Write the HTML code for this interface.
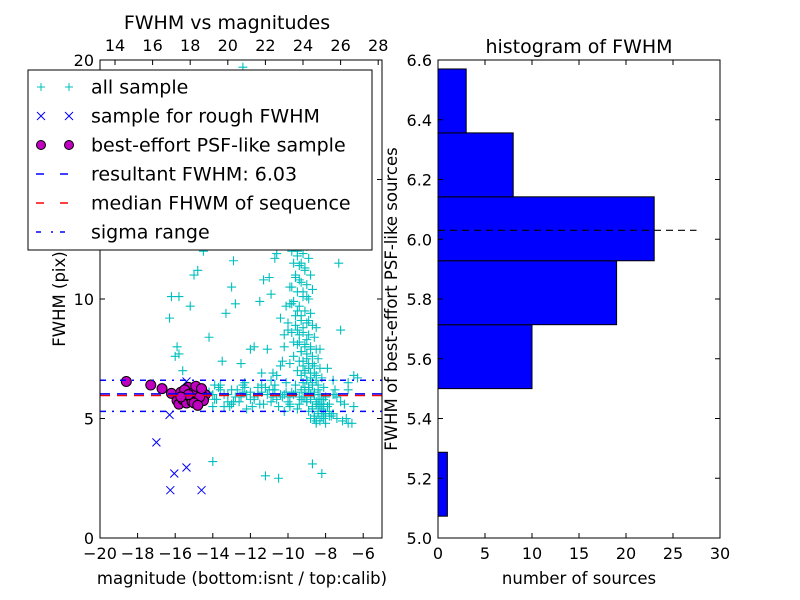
<!DOCTYPE html>
<html><head><meta charset="utf-8"><style>
body{margin:0;background:#fff;}
svg{display:block;font-family:"DejaVu Sans","Liberation Sans",sans-serif;}
</style></head><body>
<svg id="fig" width="800" height="600" viewBox="0 0 800 600" xmlns="http://www.w3.org/2000/svg">
<rect width="800" height="600" fill="#fff"/>
<g id="left"></g>
<g id="right"></g>
</svg>
<script>
// ---------- data ----------
const magAll = [-12.4,-16.2,-15.8,-16.3,-15.9,-16.0,-15.8,-15.6,-15.2,-14.8,-15.0,-14.2,-14.5,-13.3,-13.0,-12.8,-12.9,-14.0,-11.2,-10.5,-8.7,-8.2,-11.8,-12.5,-12.0,-13.5,-12.3,-11.5,-11.0,-10.7,-10.2,-11.4,-7.2,-6.5,-6.8,-7.6,-7.9,
-9.8,-9.5,-9.3,-9.1,-9.6,-9.4,-9.9,-9.2,-9.0,-9.7,-10.1,-9.5,-9.3,-8.9,-9.6,-9.2,-9.8,-9.4,-9.0,-9.5,-9.1,-8.8,-9.3,-9.7,-9.0,-9.4,-8.7,-9.2,-8.9,-9.5,-9.1,-8.6,-9.3,-8.8,-9.0,-8.5,-9.2,-8.7,-8.9,-8.4,-9.1,-8.6,-8.8,-8.3,-9.0,-8.5,-8.7,-8.2,-8.9,-8.4,-8.6,-8.1,-8.8,-8.3,-8.5,-8.0,-8.7,-8.2,-8.4,-7.8,-8.6,-8.1,-8.3,-7.6,-8.5,-8.0,-10.6,-10.9,-11.3,-10.4,-10.0,-11.1,-10.3,-9.9,
-14.8,-14.4,-14.0,-13.6,-13.2,-12.8,-12.4,-12.0,-11.6,-11.2,-10.8,-10.4,-10.0,-9.6,-9.2,-8.8,-8.4,-8.0,-7.6,-7.2,-6.8,-14.6,-14.2,-13.8,-13.4,-13.0,-12.6,-12.2,-11.8,-11.4,-11.0,-10.6,-10.2,-9.8,-9.4,-9.0,-8.6,-8.2,-7.8,-7.4,-7.0,-13.9,-13.1,-12.3,-11.5,-10.7,-9.9,-9.1,-8.3,-7.5,-6.9,-6.6,-6.3,-10.9,-10.1,-9.3,-8.5,
-9.6,-9.3,-9.0,-9.5,-9.2,-8.9,-9.7,-9.4,-9.1,-8.8,-9.6,-9.3,-9.0,-8.7,-9.5,-9.2,-8.9,-9.8,-9.4,-9.1,-8.8,-9.6,-9.3,-9.0,-8.7,-9.5,-9.2,-8.9,-8.6,-9.4,-9.1,-8.8,-8.5,-9.3,-9.0,-8.7,-8.4,-9.2,-8.9,-8.6,-8.3,-9.1,-8.8,-8.5,-8.2,-9.0,-8.7,-8.4,-8.1,-8.9,-8.6,-8.3,-8.0,-8.8,-8.5,-8.2,-7.9,-8.7,-8.4,-8.1,-7.8,-8.6,-8.3,-8.0,-7.7,-7.4,-7.1,-6.8,-6.5,-7.5,-7.3,-10.0,-10.2,-10.4,-10.6,-10.8,-9.9,-9.7,-9.8,-10.1,-9.9,-8.5,-8.3,-8.1,
-14.2,-13.9,-13.7,-13.4,-13.2,-12.9,-12.7,-12.5,-12.2,-12.0,-11.8,-11.6,-11.3,-11.1,-10.9,-10.7,-10.5,-10.3,-10.1,-9.9,-9.7,-9.5,-9.3,-9.1,-14.0,-13.6,-13.0,-12.4,-11.9,-11.4,-10.8,-10.2,-9.6,-9.4,-9.2];
const fwhmAll = [19.7,10.1,10.1,9.2,8.0,7.6,7.7,7.0,9.7,11.2,11.0,8.4,12.0,9.4,10.5,9.8,11.6,3.2,2.6,2.5,3.1,2.7,8.0,7.3,7.9,7.4,6.5,9.9,10.9,11.7,8.5,6.9,8.7,6.8,6.5,6.6,7.1,
12.0,11.8,11.5,11.3,11.0,10.8,10.5,10.3,10.1,9.9,9.7,9.5,9.3,9.1,8.9,8.8,8.6,8.5,8.3,8.1,8.0,7.9,7.8,7.6,7.5,7.4,7.3,7.2,7.1,7.0,6.9,6.9,6.8,6.7,6.6,6.6,6.5,6.4,6.3,6.2,6.1,6.0,5.9,5.8,5.7,5.6,5.5,5.4,5.3,5.2,5.1,5.0,5.0,4.9,4.8,5.2,5.4,5.1,5.6,5.3,5.0,5.8,5.5,5.2,4.9,12.5,11.9,10.2,10.8,9.2,8.7,7.9,7.4,
5.9,6.1,5.8,6.0,6.2,5.7,5.9,6.1,5.8,6.0,6.3,5.9,6.0,5.7,6.1,5.9,6.0,5.8,5.9,6.0,5.7,6.2,5.9,6.1,5.8,6.0,6.2,5.7,6.0,5.9,6.1,6.2,5.8,6.0,6.1,5.9,5.7,6.0,5.8,5.6,5.9,5.6,6.4,5.5,6.3,5.6,6.4,5.5,6.3,5.6,6.0,5.0,4.8,6.7,6.6,6.5,6.2,
12.8,12.6,12.4,12.2,12.0,11.9,11.7,11.5,11.4,11.2,11.0,10.9,10.7,10.6,10.4,10.3,10.1,10.0,9.8,9.7,9.5,9.4,9.3,9.1,9.0,8.9,8.7,8.6,8.5,8.4,8.2,8.1,8.0,7.9,7.8,7.7,7.6,7.5,7.4,7.3,7.2,7.1,7.0,6.9,6.8,6.7,6.6,6.5,6.4,6.3,6.2,6.1,6.0,5.9,5.8,5.7,5.6,5.5,5.4,5.3,5.2,5.1,5.0,4.9,4.8,5.1,5.0,4.9,4.8,5.5,6.2,11.5,9.0,8.0,7.2,6.8,6.9,7.3,8.2,10.5,12.5,9.8,8.8,7.9,
5.6,6.1,5.8,6.3,5.5,6.0,5.7,6.2,5.9,5.4,6.1,5.8,6.3,5.6,6.0,5.7,6.2,5.5,5.9,6.1,5.6,6.0,5.4,5.8,5.9,5.5,6.4,5.6,6.4,5.5,6.4,6.2,5.3,6.4,5.6];
const magRough = [-17.0,-16.05,-15.4,-16.26,-14.6,-16.3,-15.4,-14.9,-14.5];
const fwhmRough = [4.0,2.7,2.95,2.0,2.0,5.15,6.55,6.0,5.9];
const magPsf = [-18.6,-17.3,-16.7,-16.2,-15.9,-15.7,-15.5,-15.3,-15.1,-14.9,-14.7,-14.5,-14.4,-15.8,-15.6,-15.4,-15.2,-15.0,-14.8,-14.6,-14.5,-15.5,-15.1,-14.7,-14.9,-15.3,-14.6,-15.7,-15.0,-14.8];
const fwhmPsf = [6.55,6.4,6.25,6.05,5.75,6.1,5.9,6.3,6.0,5.7,6.2,5.8,6.0,5.6,5.8,5.65,5.9,6.1,5.6,6.0,5.75,6.2,5.7,5.9,6.35,6.0,6.25,5.9,5.65,5.55];
const resultFwhm = 6.03, medianFwhm = 5.96, sigmaHi = 6.6, sigmaLo = 5.3;
const binEdges = [5.073,5.287,5.500,5.714,5.928,6.142,6.356,6.570];
const binCounts = [1,0,10,19,23,8,3];
const leftXTicks = [-20,-18,-16,-14,-12,-10,-8,-6];
const leftYTicks = [0,5,10,15,20];
const topTicks = [14,16,18,20,22,24,26,28];
const rightXTicks = [0,5,10,15,20,25,30];
const rightYTicks = [5.0,5.2,5.4,5.6,5.8,6.0,6.2,6.4,6.6];

// ---------- helpers ----------
const NS="http://www.w3.org/2000/svg";
function mk(parent,tag,attrs,text){const e=document.createElementNS(NS,tag);for(const k in attrs)e.setAttribute(k,attrs[k]);if(text!==undefined)e.textContent=text;parent.appendChild(e);return e;}
const fmt=v=>(v<0?"\u2212"+Math.abs(v):""+v);
const TF=16;

// ---------- left axes ----------
const L={x0:100,x1:382,y0:538,y1:60,xmin:-20,xmax:-5,ymin:0,ymax:20};
const lx=v=>L.x0+(v-L.xmin)/(L.xmax-L.xmin)*(L.x1-L.x0);
const ly=v=>L.y0-(v-L.ymin)/(L.ymax-L.ymin)*(L.y0-L.y1);
const tx=v=>115+(v-14)*18.8;
const lg=document.getElementById('left');
const plot=mk(lg,'g',{});


for(let i=0;i<magAll.length;i++){const x=lx(magAll[i]),y=ly(fwhmAll[i]);
 const p=mk(plot,'path',{d:`M${x-4.5},${y}H${x+4.5}M${x},${y-4.5}V${y+4.5}`,stroke:'#00bfbf','stroke-width':1.1});
 
 }
for(let i=0;i<magRough.length;i++){const x=lx(magRough[i]),y=ly(fwhmRough[i]);
 const p=mk(plot,'path',{d:`M${x-4},${y-4}L${x+4},${y+4}M${x-4},${y+4}L${x+4},${y-4}`,stroke:'#0000ff','stroke-width':1});
 
 }
for(let i=0;i<magPsf.length;i++){const c=mk(plot,'circle',{cx:lx(magPsf[i]),cy:ly(fwhmPsf[i]),r:5,fill:'#bf00bf',stroke:'#000','stroke-width':1});
 
 }
function hline(v,color,dash,name){const l=mk(plot,'line',{x1:L.x0,x2:L.x1,y1:ly(v),y2:ly(v),stroke:color,'stroke-width':1.5,'stroke-dasharray':dash});
 
 }
hline(sigmaHi,'#0000ff','6 6 2 6','sigma-upper-line');
hline(sigmaLo,'#0000ff','6 6 2 6','sigma-lower-line');
hline(medianFwhm,'#ff0000','10 7','median-fwhm-line');
hline(resultFwhm,'#0000ff','10 7','resultant-fwhm-line');
mk(lg,'rect',{x:L.x0,y:L.y1,width:L.x1-L.x0,height:L.y0-L.y1,fill:'none',stroke:'#000','stroke-width':1});
for(const t of leftXTicks){const x=lx(t);mk(lg,'path',{d:`M${x},${L.y0}v-5`,stroke:'#000'});
 const e=mk(lg,'text',{x:x,y:L.y0+21,'text-anchor':'middle','font-size':TF},fmt(t));
 
 }
for(const t of leftYTicks){const y=ly(t);mk(lg,'path',{d:`M${L.x0},${y}h5M${L.x1},${y}h-5`,stroke:'#000'});
 const e=mk(lg,'text',{x:L.x0-6,y:y+6,'text-anchor':'end','font-size':TF},fmt(t));
 
 }
for(const t of topTicks){const x=tx(t);mk(lg,'path',{d:`M${x},${L.y1}v5`,stroke:'#000'});
 const e=mk(lg,'text',{x:x,y:L.y1-9,'text-anchor':'middle','font-size':TF},fmt(t));
 
 }
// legend
const leg=mk(lg,'g',{});


mk(leg,'rect',{x:28,y:70,width:344,height:180,fill:'#fff',stroke:'#000','stroke-width':1});
const items=['all sample','sample for rough FWHM','best-effort PSF-like sample','resultant FWHM: 6.03','median FHWM of sequence','sigma range'];
items.forEach((s,i)=>{const y=87+i*29;
 const t=mk(leg,'text',{x:91,y:y+6.5,'font-size':19},s);
 
 
 for(const x of [41,69]){
  if(i===0)mk(leg,'path',{d:`M${x-4},${y}h8M${x},${y-4}v8`,stroke:'#00bfbf'});
  if(i===1)mk(leg,'path',{d:`M${x-4},${y-4}l8,8M${x-4},${y+4}l8,-8`,stroke:'#0000ff'});
  if(i===2)mk(leg,'circle',{cx:x,cy:y,r:4.5,fill:'#bf00bf',stroke:'#000'});
 }
 if(i===3)mk(leg,'path',{d:`M36,${y}h8M60,${y}h8`,stroke:'#0000ff','stroke-width':1.5});
 if(i===4)mk(leg,'path',{d:`M36,${y}h8M60,${y}h8`,stroke:'#ff0000','stroke-width':1.5});
 if(i===5)mk(leg,'path',{d:`M36,${y}h5M51,${y}h2M60,${y}h5`,stroke:'#0000ff','stroke-width':1.5});
});
let e;
e=mk(lg,'text',{x:227,y:29,'text-anchor':'middle','font-size':19},'FWHM vs magnitudes');


e=mk(lg,'text',{x:242,y:584,'text-anchor':'middle','font-size':16.5},'magnitude (bottom:isnt / top:calib)');


e=mk(lg,'text',{x:0,y:0,'text-anchor':'middle','font-size':16.5,transform:'translate(65,299) rotate(-90)'},'FWHM (pix)');



// ---------- right axes ----------
const R={x0:438,x1:720,y0:538,y1:60,xmin:0,xmax:30,ymin:5.0,ymax:6.6};
const rx=v=>R.x0+(v-R.xmin)/(R.xmax-R.xmin)*(R.x1-R.x0);
const ry=v=>R.y0-(v-R.ymin)/(R.ymax-R.ymin)*(R.y0-R.y1);
const rg=document.getElementById('right');
binCounts.forEach((c,i)=>{if(c<=0)return;
 const b=mk(rg,'rect',{x:rx(0),y:ry(binEdges[i+1]),width:rx(c)-rx(0),height:ry(binEdges[i])-ry(binEdges[i+1]),fill:'#0000ff',stroke:'#000','stroke-width':1});
 
 });
e=mk(rg,'line',{x1:rx(0),x2:rx(27.5),y1:ry(resultFwhm),y2:ry(resultFwhm),stroke:'#000','stroke-width':1.2,'stroke-dasharray':'7 5'});


mk(rg,'rect',{x:R.x0,y:R.y1,width:R.x1-R.x0,height:R.y0-R.y1,fill:'none',stroke:'#000','stroke-width':1});
for(const t of rightXTicks){const x=rx(t);mk(rg,'path',{d:`M${x},${R.y0}v-5M${x},${R.y1}v5`,stroke:'#000'});
 const q=mk(rg,'text',{x:x,y:R.y0+21,'text-anchor':'middle','font-size':TF},''+t);
 
 }
for(const t of rightYTicks){const y=ry(t);mk(rg,'path',{d:`M${R.x0},${y}h5M${R.x1},${y}h-5`,stroke:'#000'});
 const q=mk(rg,'text',{x:R.x0-6,y:y+6,'text-anchor':'end','font-size':TF},t.toFixed(1));
 
 }
e=mk(rg,'text',{x:579,y:53,'text-anchor':'middle','font-size':19},'histogram of FWHM');


e=mk(rg,'text',{x:579,y:584,'text-anchor':'middle','font-size':16.5},'number of sources');


e=mk(rg,'text',{x:0,y:0,'text-anchor':'middle','font-size':16.5,transform:'translate(397,299) rotate(-90)'},'FWHM of best-effort PSF-like sources');


</script>
</body></html>
